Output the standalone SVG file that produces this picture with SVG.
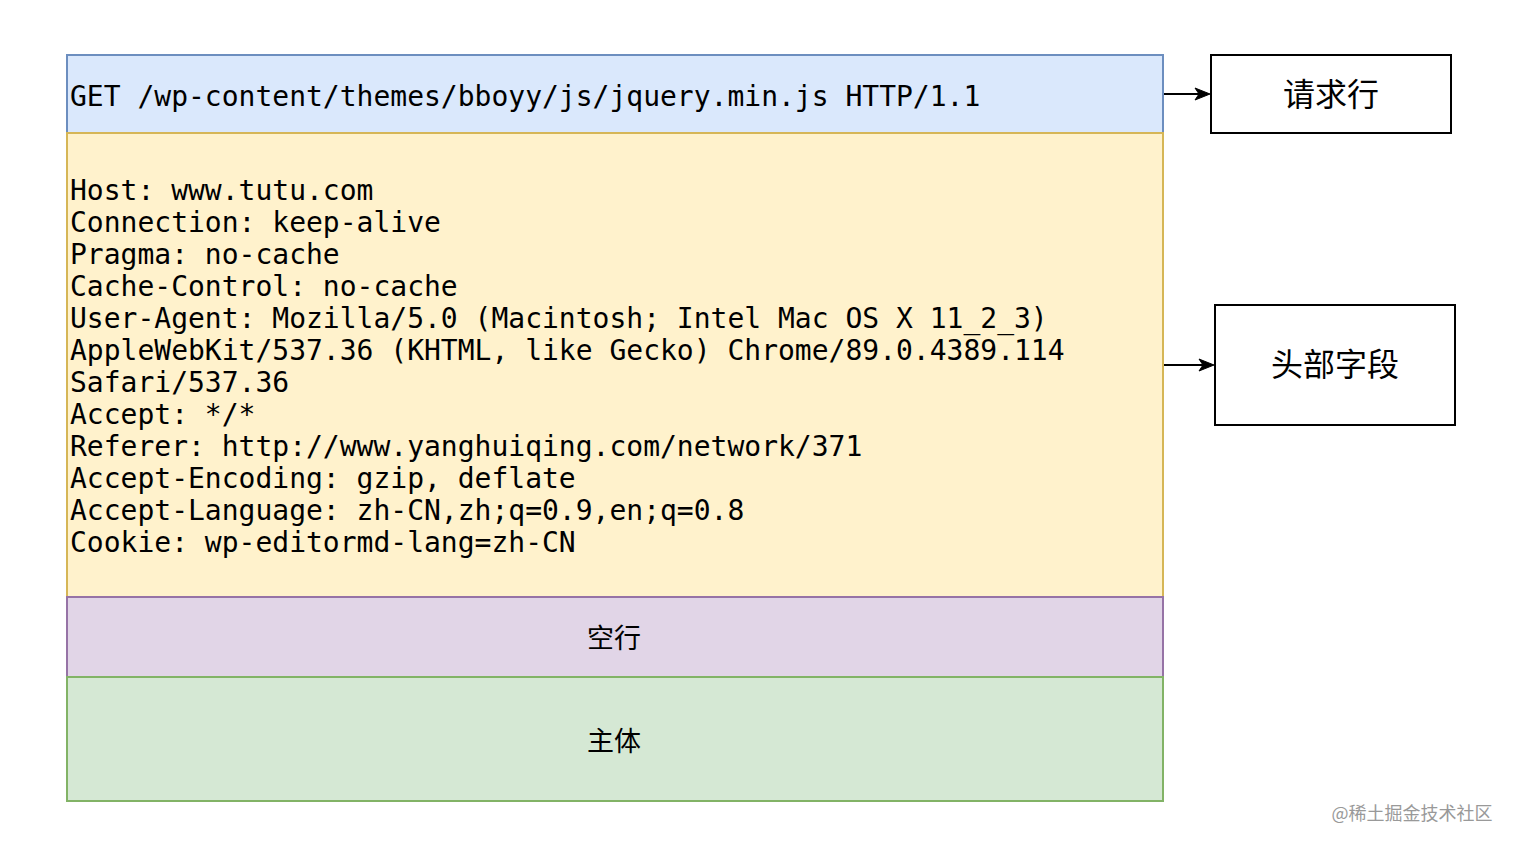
<svg xmlns="http://www.w3.org/2000/svg" width="1516" height="846" viewBox="0 0 1516 846">
<defs>
<style>
.mono{font-family:"DejaVu Sans Mono","Liberation Mono",monospace;font-size:28px;fill:#000}
.cjk{font-family:"Noto Sans CJK SC","Noto Sans",sans-serif;fill:#000;text-anchor:middle;dominant-baseline:central}
.box{fill:#fff;stroke:#000;stroke-width:2}
.conn{stroke:#000;stroke-width:2;fill:none}
.head{fill:#000;stroke:#000;stroke-width:1}
</style>
</defs>
<rect width="1516" height="846" fill="#fff"/>
<g id="request-line">
<rect x="67" y="55" width="1096" height="78" fill="#dae8fc" stroke="#6c8ebf" stroke-width="2"/>
<text class="mono" x="70" y="106">GET /wp-content/themes/bboyy/js/jquery.min.js HTTP/1.1</text>
</g>
<g id="headers">
<rect x="67" y="133" width="1096" height="464" fill="#fff2cc" stroke="#d6b656" stroke-width="2"/>
<text class="mono" x="70" y="200">Host: www.tutu.com</text>
<text class="mono" x="70" y="232">Connection: keep-alive</text>
<text class="mono" x="70" y="264">Pragma: no-cache</text>
<text class="mono" x="70" y="296">Cache-Control: no-cache</text>
<text class="mono" x="70" y="328">User-Agent: Mozilla/5.0 (Macintosh; Intel Mac OS X 11_2_3)</text>
<text class="mono" x="70" y="360">AppleWebKit/537.36 (KHTML, like Gecko) Chrome/89.0.4389.114</text>
<text class="mono" x="70" y="392">Safari/537.36</text>
<text class="mono" x="70" y="424">Accept: */*</text>
<text class="mono" x="70" y="456">Referer: http://www.yanghuiqing.com/network/371</text>
<text class="mono" x="70" y="488">Accept-Encoding: gzip, deflate</text>
<text class="mono" x="70" y="520">Accept-Language: zh-CN,zh;q=0.9,en;q=0.8</text>
<text class="mono" x="70" y="552">Cookie: wp-editormd-lang=zh-CN</text>
</g>
<g id="blank-line">
<rect x="67" y="597" width="1096" height="80" fill="#e1d5e7" stroke="#9673a6" stroke-width="2"/>
<text class="cjk" x="614" y="636" font-size="27">空行</text>
</g>
<g id="body">
<rect x="67" y="677" width="1096" height="124" fill="#d5e8d4" stroke="#82b366" stroke-width="2"/>
<text class="cjk" x="614" y="739" font-size="27">主体</text>
</g>
<g id="label-request-line">
<rect class="box" x="1211" y="55" width="240" height="78"/>
<text class="cjk" x="1331" y="92" font-size="32">请求行</text>
</g>
<g id="label-headers">
<rect class="box" x="1215" y="305" width="240" height="120"/>
<text class="cjk" x="1335" y="362" font-size="32">头部字段</text>
</g>
<g id="connectors">
<line class="conn" x1="1164" y1="94" x2="1200" y2="94"/>
<path class="head" d="M1210,94 L1195,88 L1199,94 L1195,100 Z"/>
<line class="conn" x1="1164" y1="365" x2="1204" y2="365"/>
<path class="head" d="M1214,365 L1199,359 L1203,365 L1199,371 Z"/>
</g>
<text x="1412" y="812" font-family="'Noto Sans CJK SC',sans-serif" font-size="18" fill="#999" text-anchor="middle" dominant-baseline="central">@稀土掘金技术社区</text>
</svg>
